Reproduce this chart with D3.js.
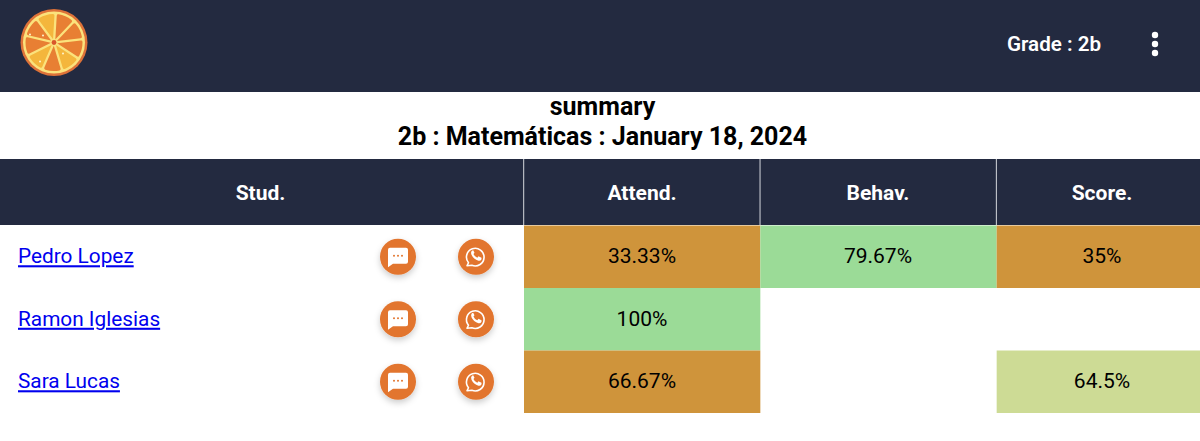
<!DOCTYPE html>
<html>
<head>
<meta charset="utf-8">
<script src="https://cdn.jsdelivr.net/npm/d3@7"></script>
<style>
  html, body { margin: 0; padding: 0; background: #fff; overflow: hidden; }
  svg { display: block; font-family: Roboto, sans-serif; }
</style>
</head>
<body>
<div id="chart"></div>
<script>
const students = ["Pedro Lopez", "Ramon Iglesias", "Sara Lucas"];
const columns = ["Attend.", "Behav.", "Score."];
const attend = ["33.33%", "100%", "66.67%"];
const behav = ["79.67%", null, null];
const score = ["35%", null, "64.5%"];
const attendLevel = ["low", "high", "low"];
const behavLevel = ["high", null, null];
const scoreLevel = ["low", null, "mid"];
const levels = ["low", "mid", "high"];
const sliceColors = ["#E87F33", "#E87F33", "#E87F33", "#F4B63C", "#E87F33", "#F4B63C", "#E87F33", "#E87F33", "#F4B63C"];

const width = 1200, height = 441;
const navy = "#232A40", orange = "#E2752E";

const svg = d3.select("#chart").append("svg")
  .attr("width", width)
  .attr("height", height);

const defs = svg.append("defs");
defs.append("filter").attr("id", "shadow")
  .attr("x", "-40%").attr("y", "-40%").attr("width", "180%").attr("height", "180%")
  .append("feDropShadow")
  .attr("dx", 0).attr("dy", 3).attr("stdDeviation", 3)
  .attr("flood-color", "#000").attr("flood-opacity", 0.2);

const color = d3.scaleOrdinal().domain(levels).range(["#CF943B", "#CDDB95", "#9BDB97"]);
// last column runs past the window edge
const xCol = d3.scaleBand().domain(columns).range([524, 1233]);
const xMid = d3.scaleOrdinal().domain(columns).range([642, 878, 1102]);
const y = d3.scaleBand().domain(students).range([225.5, 413]);

// top bar
svg.append("rect").attr("width", width).attr("height", 92).attr("fill", navy);

// orange logo
const logo = svg.append("g").attr("transform", "translate(54,42.5)");
logo.append("circle").attr("r", 33.5).attr("fill", "#DE7238");
logo.append("circle").attr("r", 31).attr("fill", "#FBE27C");
const pie = d3.pie().value(1).sort(null).startAngle(0.06).endAngle(0.06 + 2 * Math.PI);
const arc = d3.arc().innerRadius(3.5).outerRadius(28.5).padAngle(0.08).cornerRadius(1.5);
logo.selectAll("path.slice")
  .data(pie(sliceColors))
  .enter().append("path")
  .attr("class", "slice")
  .attr("d", arc)
  .attr("fill", d => d.data);
logo.append("circle").attr("r", 2.4).attr("fill", "#D9572B");
logo.selectAll("circle.seed")
  .data([[-24, -8], [-11, -7], [9, 11], [-14, 19]])
  .enter().append("circle")
  .attr("class", "seed")
  .attr("cx", d => d[0]).attr("cy", d => d[1])
  .attr("r", 1).attr("fill", "#FDF3D0");

svg.append("text").attr("x", 1054).attr("y", 50.5)
  .attr("text-anchor", "middle").attr("fill", "#fff")
  .attr("font-size", 20.6).attr("font-weight", 600)
  .text("Grade : 2b");
svg.selectAll("circle.dot")
  .data([-1, 0, 1])
  .enter().append("circle")
  .attr("class", "dot")
  .attr("cx", 1155)
  .attr("cy", d => 44 + d * 9)
  .attr("r", 3.2)
  .attr("fill", "#fff");

// titles
svg.append("text").attr("x", 602.5).attr("y", 115)
  .attr("text-anchor", "middle").attr("font-size", 25).attr("font-weight", 700)
  .attr("fill", "#000").text("summary");
svg.append("text").attr("x", 602.5).attr("y", 145)
  .attr("text-anchor", "middle").attr("font-size", 25).attr("font-weight", 700)
  .attr("fill", "#000").text("2b : Matemáticas : January 18, 2024");

// table header
svg.append("rect").attr("y", 159).attr("width", width).attr("height", 66).attr("fill", navy);
svg.append("text").attr("x", 260.5).attr("y", 199.5)
  .attr("text-anchor", "middle").attr("fill", "#fff")
  .attr("font-size", 21).attr("font-weight", 700).text("Stud.");
svg.selectAll("text.head")
  .data(columns)
  .enter().append("text")
  .attr("class", "head")
  .attr("x", d => xMid(d))
  .attr("y", 199.5)
  .attr("text-anchor", "middle").attr("fill", "#fff")
  .attr("font-size", 21).attr("font-weight", 700)
  .text(d => d);
svg.selectAll("line.sep")
  .data(columns)
  .enter().append("line")
  .attr("class", "sep")
  .attr("x1", d => xCol(d) - 0.3).attr("x2", d => xCol(d) - 0.3)
  .attr("y1", 159).attr("y2", 225)
  .attr("stroke", "#D5D7DC").attr("stroke-width", 1);

// body cells
const cells = [];
students.forEach((s, i) => {
  cells.push({ s, col: "Attend.", v: attend[i], level: attendLevel[i] });
  cells.push({ s, col: "Behav.", v: behav[i], level: behavLevel[i] });
  cells.push({ s, col: "Score.", v: score[i], level: scoreLevel[i] });
});
const filled = cells.filter(d => d.v !== null);

svg.selectAll("rect.cell")
  .data(filled)
  .enter().append("rect")
  .attr("class", "cell")
  .attr("x", d => xCol(d.col))
  .attr("y", d => y(d.s))
  .attr("width", xCol.bandwidth())
  .attr("height", y.bandwidth())
  .attr("fill", d => color(d.level));

svg.selectAll("text.val")
  .data(filled)
  .enter().append("text")
  .attr("class", "val")
  .attr("x", d => xMid(d.col))
  .attr("y", d => y(d.s) + y.bandwidth() / 2 + 6.5)
  .attr("text-anchor", "middle")
  .attr("font-size", 21)
  .attr("fill", "#000")
  .text(d => d.v);

svg.selectAll("text.name")
  .data(students)
  .enter().append("text")
  .attr("class", "name")
  .attr("x", 18)
  .attr("y", d => y(d) + y.bandwidth() / 2 + 6.5)
  .attr("font-size", 20.8)
  .attr("fill", "#0000EE")
  .attr("text-decoration", "underline")
  .text(d => d);

// action buttons
const rows = svg.selectAll("g.row")
  .data(students)
  .enter().append("g")
  .attr("class", "row")
  .attr("transform", d => `translate(0,${y(d) + y.bandwidth() / 2})`);

const chat = rows.append("g").attr("transform", "translate(398,0)");
chat.append("circle").attr("r", 18).attr("fill", orange).attr("filter", "url(#shadow)");
chat.append("path")
  .attr("d", "M-8,-9 H8 Q10,-9 10,-7 V5 Q10,7 8,7 H-5 L-10,10.5 V-7 Q-10,-9 -8,-9 Z")
  .attr("fill", "#fff");
chat.selectAll("circle.d")
  .data([-4, 0, 4])
  .enter().append("circle")
  .attr("class", "d")
  .attr("cx", d => d)
  .attr("cy", -1)
  .attr("r", 1)
  .attr("fill", orange);

const wa = rows.append("g").attr("transform", "translate(476,0)");
wa.append("circle").attr("r", 18).attr("fill", orange).attr("filter", "url(#shadow)");
wa.append("path")
  .attr("d", "M-8,7.5 A8.8,8.8 0 1 1 -4.6,10 L-9.5,10.5 Z")
  .attr("transform", "translate(0.5,-1.5)")
  .attr("fill", "none").attr("stroke", "#fff").attr("stroke-width", 1.6).attr("stroke-linejoin", "round");
wa.append("path")
  .attr("d", "M-3.6,-5 Q-5,-3.5 -4,-1 Q-2,3.5 3,5 Q5,5.5 6,3.5 L6,2 L3,0.5 L1.8,2 Q-1,1 -2,-1.8 L-1,-3 L-2.3,-5.5 Z")
  .attr("transform", "translate(-0.5,-1)")
  .attr("fill", "#fff");
</script>
</body>
</html>
